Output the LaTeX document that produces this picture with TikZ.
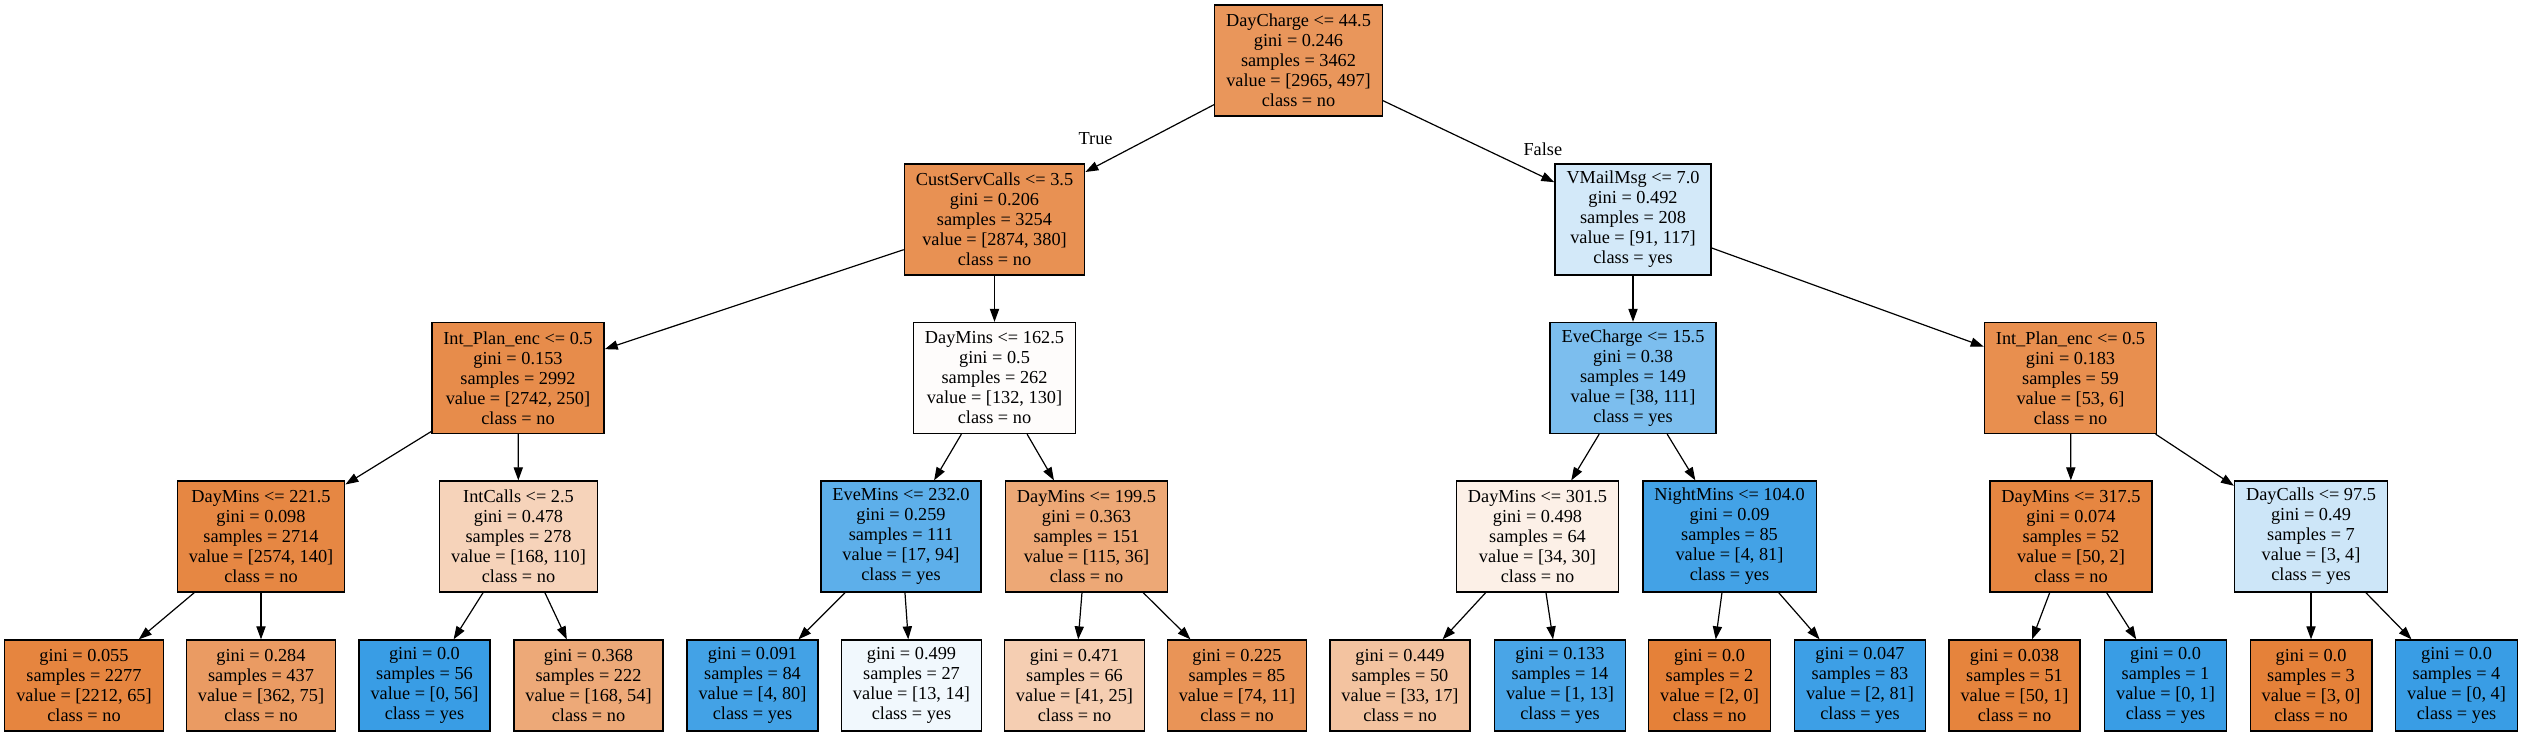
\documentclass[tikz,border=0pt]{standalone}
\usepackage{fontspec}
\setmainfont{Liberation Serif}
\usetikzlibrary{arrows.meta}
\definecolor{clsno}{HTML}{E58139}
\definecolor{clsyes}{HTML}{399DE5}
\tikzset{
  split/.style={draw=black, line width=0.65pt, align=center, inner xsep=5.75pt,
    minimum height=55.5pt, font=\fontsize{9.15}{10}\selectfont},
  leaf/.style={split, minimum height=45.5pt},
  link/.style={-{Triangle[length=6.5pt,width=4.6pt]}, line width=0.6pt},
  lbl/.style={font=\fontsize{9.15}{10}\selectfont},
}
\begin{document}
\begin{tikzpicture}[x=0.5pt, y=-0.5pt]
    \useasboundingbox (0,0) rectangle (2522,736);
    % level 0 and 1
    \node[split, fill=clsno!83] (root) at (1298.5,60.5) {DayCharge <= 44.5\\gini = 0.246\\samples = 3462\\value = [2965, 497]\\class = no};
    \node[split, fill=clsno!87] (csc) at (994.5,219.5) {CustServCalls <= 3.5\\gini = 0.206\\samples = 3254\\value = [2874, 380]\\class = no};
    \node[split, fill=clsyes!22] (vmail) at (1633,219.5) {VMailMsg <= 7.0\\gini = 0.492\\samples = 208\\value = [91, 117]\\class = yes};
    % level 2
    \node[split, fill=clsno!91] (ipl) at (518,378) {Int\_Plan\_enc <= 0.5\\gini = 0.153\\samples = 2992\\value = [2742, 250]\\class = no};
    \node[split, fill=clsno!2] (dm162) at (994.5,378) {DayMins <= 162.5\\gini = 0.5\\samples = 262\\value = [132, 130]\\class = no};
    \node[split, fill=clsyes!66] (ec) at (1633,378) {EveCharge <= 15.5\\gini = 0.38\\samples = 149\\value = [38, 111]\\class = yes};
    \node[split, fill=clsno!89] (ipr) at (2070.5,378) {Int\_Plan\_enc <= 0.5\\gini = 0.183\\samples = 59\\value = [53, 6]\\class = no};
    % level 3
    \node[split, fill=clsno!95] (dm221) at (261,536.5) {DayMins <= 221.5\\gini = 0.098\\samples = 2714\\value = [2574, 140]\\class = no};
    \node[split, fill=clsno!35] (ic) at (518.5,536.5) {IntCalls <= 2.5\\gini = 0.478\\samples = 278\\value = [168, 110]\\class = no};
    \node[split, fill=clsyes!82] (em) at (901,536.5) {EveMins <= 232.0\\gini = 0.259\\samples = 111\\value = [17, 94]\\class = yes};
    \node[split, fill=clsno!69] (dm199) at (1086.5,536.5) {DayMins <= 199.5\\gini = 0.363\\samples = 151\\value = [115, 36]\\class = no};
    \node[split, fill=clsno!12] (dm301) at (1537.5,536.5) {DayMins <= 301.5\\gini = 0.498\\samples = 64\\value = [34, 30]\\class = no};
    \node[split, fill=clsyes!95] (nm) at (1729.5,536.5) {NightMins <= 104.0\\gini = 0.09\\samples = 85\\value = [4, 81]\\class = yes};
    \node[split, fill=clsno!96] (dm317) at (2071,536.5) {DayMins <= 317.5\\gini = 0.074\\samples = 52\\value = [50, 2]\\class = no};
    \node[split, fill=clsyes!25] (dc) at (2311,536.5) {DayCalls <= 97.5\\gini = 0.49\\samples = 7\\value = [3, 4]\\class = yes};
    % leaves
    \node[leaf, fill=clsno!97] (l1) at (84,685.5) {gini = 0.055\\samples = 2277\\value = [2212, 65]\\class = no};
    \node[leaf, fill=clsno!79] (l2) at (261,685.5) {gini = 0.284\\samples = 437\\value = [362, 75]\\class = no};
    \node[leaf, fill=clsyes] (l3) at (424.5,685.5) {gini = 0.0\\samples = 56\\value = [0, 56]\\class = yes};
    \node[leaf, fill=clsno!68] (l4) at (588.5,685.5) {gini = 0.368\\samples = 222\\value = [168, 54]\\class = no};
    \node[leaf, fill=clsyes!95] (l5) at (752.5,685.5) {gini = 0.091\\samples = 84\\value = [4, 80]\\class = yes};
    \node[leaf, fill=clsyes!7] (l6) at (911.5,685.5) {gini = 0.499\\samples = 27\\value = [13, 14]\\class = yes};
    \node[leaf, fill=clsno!39] (l7) at (1074.5,685.5) {gini = 0.471\\samples = 66\\value = [41, 25]\\class = no};
    \node[leaf, fill=clsno!85] (l8) at (1237,685.5) {gini = 0.225\\samples = 85\\value = [74, 11]\\class = no};
    \node[leaf, fill=clsno!48] (l9) at (1400,685.5) {gini = 0.449\\samples = 50\\value = [33, 17]\\class = no};
    \node[leaf, fill=clsyes!92] (l10) at (1560,685.5) {gini = 0.133\\samples = 14\\value = [1, 13]\\class = yes};
    \node[leaf, fill=clsno] (l11) at (1709.5,685.5) {gini = 0.0\\samples = 2\\value = [2, 0]\\class = no};
    \node[leaf, fill=clsyes!98] (l12) at (1860,685.5) {gini = 0.047\\samples = 83\\value = [2, 81]\\class = yes};
    \node[leaf, fill=clsno!98] (l13) at (2014.5,685.5) {gini = 0.038\\samples = 51\\value = [50, 1]\\class = no};
    \node[leaf, fill=clsyes] (l14) at (2165.5,685.5) {gini = 0.0\\samples = 1\\value = [0, 1]\\class = yes};
    \node[leaf, fill=clsno] (l15) at (2311,685.5) {gini = 0.0\\samples = 3\\value = [3, 0]\\class = no};
    \node[leaf, fill=clsyes] (l16) at (2456.5,685.5) {gini = 0.0\\samples = 4\\value = [0, 4]\\class = yes};
    % connectors
    \draw[link] (root) -- node[lbl, pos=0.5, xshift=-27pt] (true) {True} (csc);
    \draw[link] (root) -- node[lbl, pos=0.6, xshift=28.5pt] (false) {False} (vmail);
    \foreach \a/\b in {csc/ipl, csc/dm162, vmail/ec, vmail/ipr,
        ipl/dm221, ipl/ic, dm162/em, dm162/dm199, ec/dm301, ec/nm, ipr/dm317, ipr/dc,
        dm221/l1, dm221/l2, ic/l3, ic/l4, em/l5, em/l6, dm199/l7, dm199/l8,
        dm301/l9, dm301/l10, nm/l11, nm/l12, dm317/l13, dm317/l14, dc/l15, dc/l16}
        \draw[link] (\a) -- (\b);
\end{tikzpicture}
\end{document}
